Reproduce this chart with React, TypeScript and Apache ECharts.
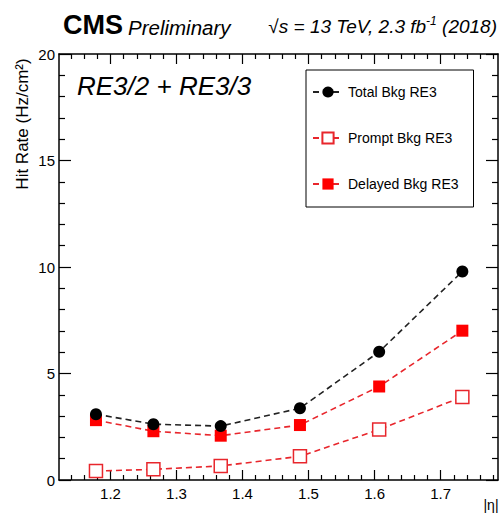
import React, { useEffect, useRef } from "react";
import * as echarts from "echarts";

const etaValues = [1.178, 1.265, 1.367, 1.487, 1.607, 1.733];
const totalBkg = [3.09, 2.62, 2.53, 3.37, 6.02, 9.79];
const promptBkg = [0.42, 0.5, 0.66, 1.11, 2.37, 3.9];
const delayedBkg = [2.81, 2.29, 2.08, 2.58, 4.39, 7.01];
const xMajorTicks = [1.2, 1.3, 1.4, 1.5, 1.6, 1.7];
const xMinorTicks = [1.14, 1.16, 1.18, 1.22, 1.24, 1.26, 1.28, 1.32, 1.34, 1.36, 1.38, 1.42, 1.44, 1.46, 1.48, 1.52, 1.54, 1.56, 1.58, 1.62, 1.64, 1.66, 1.68, 1.72, 1.74, 1.76, 1.78];
const seriesNames = ["Total Bkg RE3", "Prompt Bkg RE3", "Delayed Bkg RE3"];

const FONT = "Liberation Sans";
const X_MIN = 1.122;
const X_MAX = 1.787;

export default function App() {
  const ref = useRef<HTMLDivElement>(null);
  useEffect(() => {
    if (!ref.current) return;
    const chart = echarts.init(ref.current, null, { renderer: "svg" });
    const pairs = (ys: number[]) => etaValues.map((x, i) => [x, ys[i]]);
    const red = "#e8262c";
    const baseX = {
      type: "value" as const,
      min: X_MIN,
      max: X_MAX,
      splitLine: { show: false },
    };
    const option: any = {
      animation: false,
      textStyle: { fontFamily: FONT, color: "#000" },
      title: [
        {
          left: 58,
          top: 6,
          text: "{a|CMS} {b|Preliminary}",
          textStyle: {
            fontWeight: "normal",
            rich: {
              a: { fontFamily: FONT, fontSize: 27, fontWeight: "bold", color: "#000" },
              b: { fontFamily: FONT, fontSize: 20.5, fontStyle: "italic", fontWeight: "normal", color: "#000", padding: [6, 0, 0, 0] },
            },
          },
        },
        {
          right: 2,
          top: 10,
          text: "{n|√s = 13 TeV, 2.3 fb}{s|-1}{n| (2018)}",
          textStyle: {
            fontWeight: "normal",
            rich: {
              n: { fontFamily: FONT, fontSize: 19, fontStyle: "italic", fontWeight: "normal", color: "#000" },
              s: { fontFamily: FONT, fontSize: 12, fontStyle: "italic", fontWeight: "normal", color: "#000", verticalAlign: "top", padding: [0, 0, 10, 0] },
            },
          },
        },
      ],
      grid: { left: 59, right: 6, top: 54, bottom: 36, containLabel: false },
      legend: {
        orient: "vertical",
        left: 306,
        top: 70,
        data: seriesNames,
        padding: [15, 15, 16, 6],
        itemGap: 32,
        itemWidth: 30,
        itemHeight: 14,
        borderColor: "#000",
        borderWidth: 1,
        textStyle: { fontFamily: FONT, fontSize: 14, color: "#000" },
      },
      xAxis: [
        {
          ...baseX,
          position: "bottom",
          axisLine: { show: true, lineStyle: { color: "#000", width: 1.5 } },
          axisTick: { show: true, inside: true, length: 10, customValues: xMajorTicks, lineStyle: { color: "#000", width: 1.2 } },
          axisLabel: { customValues: xMajorTicks, fontFamily: FONT, fontSize: 15, color: "#000", margin: 6 },
        },
        {
          ...baseX,
          position: "bottom",
          axisLine: { show: false },
          axisTick: { show: true, inside: true, length: 5, customValues: xMinorTicks, lineStyle: { color: "#000", width: 1.2 } },
          axisLabel: { show: false },
        },
        {
          ...baseX,
          position: "top",
          axisLine: { show: true, lineStyle: { color: "#000", width: 1.5 } },
          axisTick: { show: true, inside: true, length: 10, customValues: xMajorTicks, lineStyle: { color: "#000", width: 1.2 } },
          axisLabel: { show: false },
        },
        {
          ...baseX,
          position: "top",
          axisLine: { show: false },
          axisTick: { show: true, inside: true, length: 5, customValues: xMinorTicks, lineStyle: { color: "#000", width: 1.2 } },
          axisLabel: { show: false },
        },
      ],
      yAxis: [
        {
          type: "value",
          min: 0,
          max: 20,
          interval: 5,
          position: "left",
          splitLine: { show: false },
          axisLine: { show: true, lineStyle: { color: "#000", width: 1.5 } },
          axisTick: { show: true, inside: true, length: 12, lineStyle: { color: "#000", width: 1.2 } },
          minorTick: { show: true, splitNumber: 5, length: 6, lineStyle: { color: "#000", width: 1.2 } },
          axisLabel: { fontFamily: FONT, fontSize: 15, color: "#000", margin: 4 },
        },
        {
          type: "value",
          min: 0,
          max: 20,
          interval: 5,
          position: "right",
          splitLine: { show: false },
          axisLine: { show: true, lineStyle: { color: "#000", width: 1.5 } },
          axisTick: { show: true, inside: true, length: 12, lineStyle: { color: "#000", width: 1.2 } },
          minorTick: { show: true, splitNumber: 5, length: 6, lineStyle: { color: "#000", width: 1.2 } },
          axisLabel: { show: false },
        },
      ],
      graphic: [
        {
          type: "text",
          x: 77,
          y: 86,
          style: {
            text: "RE3/2 + RE3/3",
            fontFamily: FONT,
            fontSize: 26,
            fontStyle: "italic",
            fill: "#000",
            verticalAlign: "middle",
          },
        },
        {
          type: "text",
          x: 22,
          y: 124,
          rotation: Math.PI / 2,
          style: {
            text: "Hit Rate (Hz/cm²)",
            fontFamily: FONT,
            fontSize: 17,
            fill: "#000",
            align: "center",
            verticalAlign: "middle",
          },
        },
        {
          type: "text",
          x: 491,
          y: 505,
          style: {
            text: "|η|",
            fontFamily: FONT,
            fontSize: 14,
            fill: "#000",
            align: "center",
            verticalAlign: "middle",
          },
        },
      ],
      series: [
        {
          name: seriesNames[0],
          type: "line",
          xAxisIndex: 0,
          yAxisIndex: 0,
          data: pairs(totalBkg),
          symbol: "circle",
          symbolSize: 12,
          itemStyle: { color: "#000" },
          lineStyle: { color: "#222", width: 1.6, type: [6, 4] },
          z: 3,
        },
        {
          name: seriesNames[1],
          type: "line",
          xAxisIndex: 0,
          yAxisIndex: 0,
          data: pairs(promptBkg),
          symbol: "rect",
          symbolSize: 13,
          itemStyle: { color: "#fff", borderColor: red, borderWidth: 1.5 },
          lineStyle: { color: red, width: 1.6, type: [6, 4] },
          z: 2,
        },
        {
          name: seriesNames[2],
          type: "line",
          xAxisIndex: 0,
          yAxisIndex: 0,
          data: pairs(delayedBkg),
          symbol: "rect",
          symbolSize: 12,
          itemStyle: { color: "#f00" },
          lineStyle: { color: red, width: 1.6, type: [6, 4] },
          z: 2,
        },
      ],
    };
    chart.setOption(option);
    return () => chart.dispose();
  }, []);
  return <div ref={ref} style={{ width: 504, height: 516, position: "absolute", left: 0, top: 0 }} />;
}
